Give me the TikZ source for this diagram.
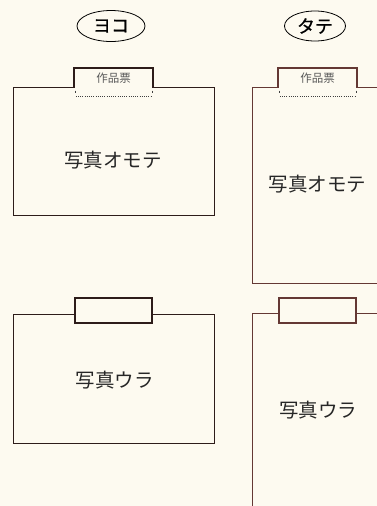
\documentclass[tikz,border=0pt]{standalone}
\usepackage{fontspec}
\newfontfamily\cjk{Noto Sans CJK JP}
\newfontfamily\cjkmid[FakeBold=0.6]{Noto Sans CJK JP}
\definecolor{mypaper}{RGB}{253,250,240}
\definecolor{mydark}{RGB}{45,28,26}
\definecolor{mybrown}{RGB}{100,56,52}
\usetikzlibrary{positioning,shapes.geometric}

\begin{document}
\begin{tikzpicture}[x=1pt,y=-1pt,
    every node/.style={font=\cjk},
    photo/.style={draw,rectangle,fill=mypaper,line width=0.8pt,inner sep=0pt},
    ticket/.style={rectangle,fill=mypaper,inner sep=0pt,minimum width=79pt,font=\cjk\fontsize{11.5}{12}\selectfont,text=black!65},
    tag/.style={draw=black,ellipse,line width=0.8pt,inner sep=0pt,font=\cjkmid\fontsize{18}{18}\selectfont},
    caption/.style={font=\cjk\fontsize{19.5}{20}\selectfont,text=black!85},
    fold/.style={black!75,line width=1pt}
    ]
    \clip (0,0) rectangle (377,506);
    \fill[mypaper] (0,0) rectangle (377,506);

    % the labels
    \node (yoko) [tag,minimum width=68pt,minimum height=31pt] at (111,26) {ヨコ};
    \node (tate) [tag,minimum width=61pt,minimum height=30pt] at (315,26) {タテ};

    % front side
    \node (omoteA) [photo,draw=mydark,minimum width=201pt,minimum height=128pt] at (113.5,151) {};
    \node (omoteB) [photo,draw=mybrown,minimum width=200pt,minimum height=196pt] at (352,185) {};
    \node (ticketA) [ticket,minimum height=19pt] at (113.5,78) {作品票};
    \node (ticketB) [ticket,minimum height=19pt] at (317.5,78) {作品票};
    \node (textA) [caption] at (113,160) {写真オモテ};
    \node (textB) [caption] at (317.5,184) {写真オモテ};

    % back side
    \node (uraA) [photo,draw=mydark,minimum width=201pt,minimum height=129pt] at (113.5,378.5) {};
    \node (uraB) [photo,draw=mybrown,minimum width=200pt,minimum height=260pt] at (352,443) {};
    \node (ticketC) [ticket,draw=mydark,line width=2pt,minimum width=77pt,minimum height=25pt] at (113.5,310.5) {};
    \node (ticketD) [ticket,draw=mybrown,line width=2pt,minimum width=77pt,minimum height=25pt] at (317.5,310.5) {};
    \node (textC) [caption] at (114.5,380) {写真ウラ};
    \node (textD) [caption] at (318,410) {写真ウラ};

    % the ticket edges
    \draw[mydark,line width=2pt] (ticketA.south west) -- (ticketA.north west) -- (ticketA.north east) -- (ticketA.south east);
    \draw[mybrown,line width=2pt] (ticketB.south west) -- (ticketB.north west) -- (ticketB.north east) -- (ticketB.south east);

    % the fold lines
    \foreach \t in {ticketA,ticketB} {
      \draw[fold,dash pattern=on 1pt off 1.2pt] ([shift={(2,8.5)}]\t.south west) -- ([shift={(-1,8.5)}]\t.south east);
      \draw[fold] ([shift={(2,3)}]\t.south west) -- ++(0,2);
      \draw[fold] ([shift={(-1,3)}]\t.south east) -- ++(0,2);
    }
\end{tikzpicture}
\end{document}
